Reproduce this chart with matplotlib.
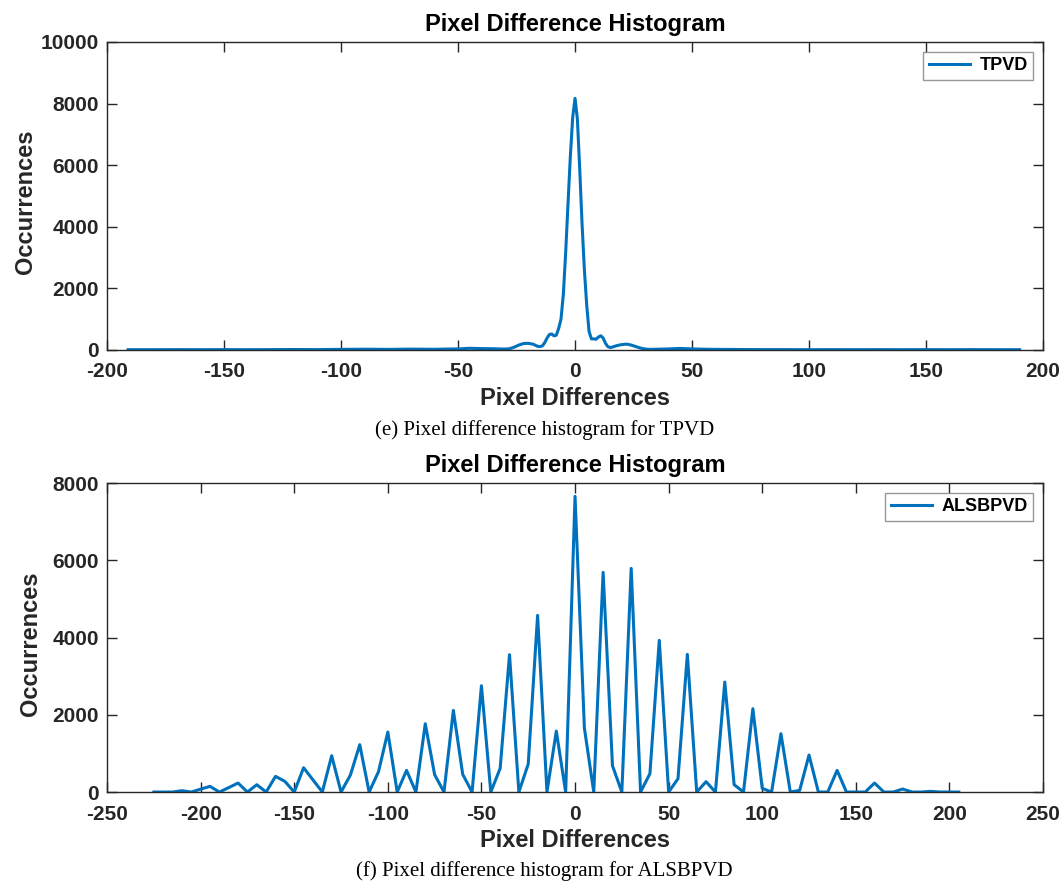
import numpy as np
import matplotlib
matplotlib.use('Agg')
import matplotlib.pyplot as plt

# Dados #

# (e) TPVD
x_tpvd = [-191, -180, -170, -160, -150, -140, -130, -120, -110, -100, -90, -80,
          -70, -60, -55, -50, -45, -40, -35, -30, -28, -26, -24, -22, -20, -18,
          -16, -15, -14, -13, -12, -11, -10, -9, -8, -7, -6, -5, -4, -3, -2, -1,
          0, 1, 2, 3, 4, 5, 6, 7, 8, 9, 10, 11, 12, 13, 14, 15, 16, 18, 20, 22,
          24, 26, 28, 30, 32, 35, 40, 45, 50, 55, 60, 70, 80, 90, 100, 110, 120,
          130, 140, 150, 160, 170, 180, 190]
y_tpvd = [10, 10, 12, 10, 12, 10, 12, 15, 12, 20, 25, 20,
          28, 22, 30, 35, 55, 45, 40, 30, 40, 90, 160, 210, 215, 190,
          120, 110, 130, 230, 380, 500, 520, 460, 480, 700, 1000, 1800, 3160, 4750, 6290, 7550,
          8170, 7500, 5890, 4100, 2600, 1450, 600, 360, 360, 350, 420, 460, 390, 220, 110, 80, 95, 145, 175, 190,
          160, 110, 60, 30, 20, 25, 35, 50, 35, 25, 20, 15, 12, 12, 10, 12, 10,
          12, 10, 12, 10, 12, 10, 10]

# (f) ALSBPVD
x_alsb = [-225, -220, -215, -210, -205, -200, -195, -190, -185, -180, -175, -170,
          -165, -160, -155, -150, -145, -140, -135, -130, -125, -120, -115, -110,
          -105, -100, -95, -90, -85, -80, -75, -70, -65, -60, -55, -50, -45, -40,
          -35, -30, -25, -20, -15, -10, -5, 0, 5, 10, 15, 20, 25, 30, 35, 40, 45,
          50, 55, 60, 65, 70, 75, 80, 85, 90, 95, 100, 105, 110, 115, 120, 125,
          130, 135, 140, 145, 150, 155, 160, 165, 170, 175, 180, 185, 190, 195,
          200, 205]
y_alsb = [0, 0, 0, 35, 0, 75, 147, 0, 115, 233, 0, 190,
          0, 406, 276, 0, 630, 315, 0, 941, 0, 440, 1226, 0,
          526, 1553, 0, 561, 0, 1769, 449, 0, 2114, 457, 0, 2753, 0, 613,
          3556, 0, 725, 4574, 0, 1579, 0, 7656, 1657, 0, 5688, 682, 0, 5791, 0, 475, 3927,
          0, 345, 3565, 0, 268, 0, 2848, 190, 0, 2158, 95, 0, 1510, 0, 43, 958,
          0, 0, 561, 0, 0, 0, 233, 0, 0, 78, 0, 0, 17, 0,
          0, 0]

cor = '#0072BD'
cinza = '#262626'
fonte = ['Liberation Sans', 'DejaVu Sans']
plt.rcParams['font.family'] = fonte
plt.rcParams['font.weight'] = 'bold'
plt.rcParams['axes.unicode_minus'] = False

def configura_eixo(ax, xlim, xticks, ylim, yticks, nome, ylab_x):
  ax.set_xlim(xlim)
  ax.set_ylim(ylim)
  ax.set_xticks(xticks)
  ax.set_yticks(yticks)
  ax.tick_params(direction='in', length=7, width=1, colors=cinza, labelsize=15,
                 top=True, right=True, pad=6)
  ax.tick_params(axis='x', pad=9)
  for lbl in ax.get_xticklabels() + ax.get_yticklabels():
    lbl.set_fontweight('bold')
  for s in ax.spines.values():
    s.set_color(cinza)
    s.set_linewidth(1)
  ax.set_title('Pixel Difference Histogram', fontsize=17, fontweight='bold', color='black', pad=8)
  ax.set_xlabel('Pixel Differences', fontsize=17, fontweight='bold', color=cinza, va='center')
  ax.xaxis.set_label_coords(0.5, -0.157)
  ax.set_ylabel('Occurrences', fontsize=17, fontweight='bold', color=cinza, va='center')
  ax.yaxis.set_label_coords(ylab_x, 0.48)
  leg = ax.legend([nome], loc='upper right', fancybox=False, edgecolor='#7f7f7f',
                  prop={'size': 13, 'weight': 'bold'}, handlelength=2.3,
                  handletextpad=0.5, borderaxespad=0.55, borderpad=0.3)
  leg.get_frame().set_linewidth(1)

fig = plt.figure(figsize=(10.63, 8.82), dpi=100)

ax1 = fig.add_axes([0.1007, 0.6032, 0.8805, 0.3492])
ax1.plot(x_tpvd, y_tpvd, color=cor, linewidth=2.2)
configura_eixo(ax1, (-200, 200), np.arange(-200, 201, 50), (0, 10000),
               np.arange(0, 10001, 2000), 'TPVD', -0.087)

ax2 = fig.add_axes([0.1007, 0.1020, 0.8805, 0.3503])
ax2.plot(x_alsb, y_alsb, color=cor, linewidth=2.2)
configura_eixo(ax2, (-250, 250), np.arange(-250, 251, 50), (0, 8000),
               np.arange(0, 8001, 2000), 'ALSBPVD', -0.082)

fig.text(0.5125, 1 - 430/882, '(e) Pixel difference histogram for TPVD', ha='center', va='center',
         fontsize=15, fontweight='normal', family=['Liberation Serif', 'DejaVu Serif'])
fig.text(0.5125, 1 - 871/882, '(f) Pixel difference histogram for ALSBPVD', ha='center', va='center',
         fontsize=15, fontweight='normal', family=['Liberation Serif', 'DejaVu Serif'])

fig.savefig('out.png', dpi=100)
